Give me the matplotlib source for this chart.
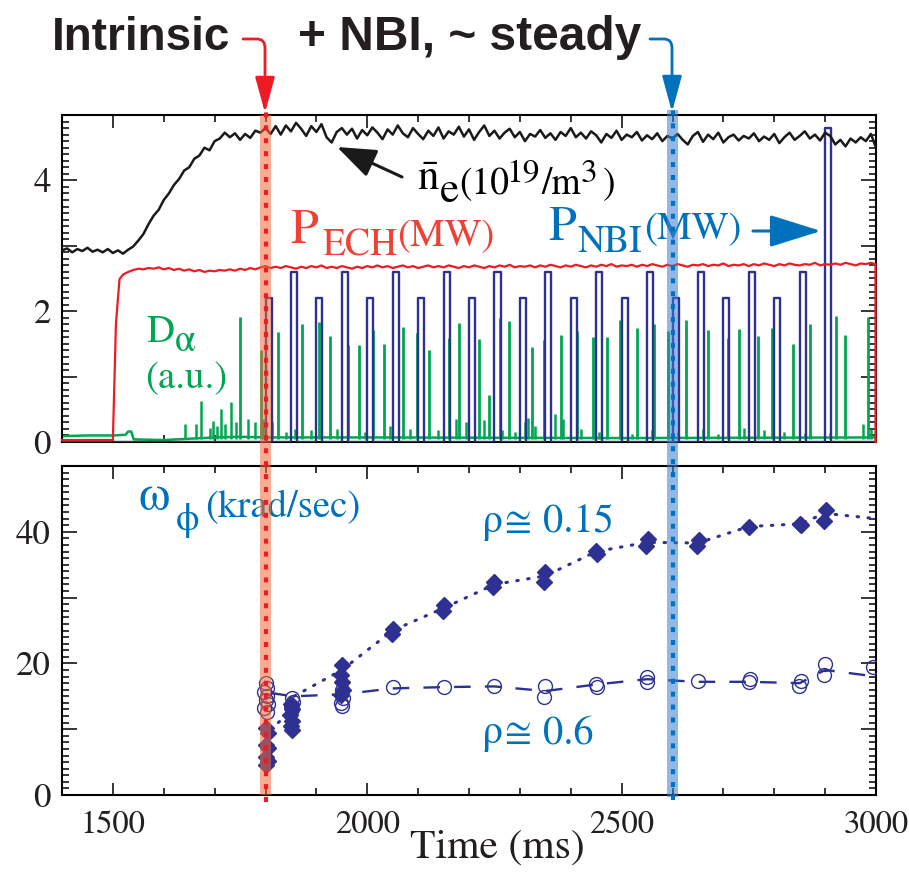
import numpy as np
import matplotlib
matplotlib.use('Agg')
import matplotlib.pyplot as plt
from matplotlib.patches import Rectangle, FancyArrowPatch, ArrowStyle
from matplotlib.lines import Line2D
from matplotlib.path import Path
import matplotlib.transforms as mtransforms
from matplotlib.ticker import MultipleLocator, FuncFormatter

# ---------------- data ----------------
# line-averaged density (1e19 m^-3), sampled every 10 ms from 1400 to 3000
ne_t = np.arange(1400, 3001, 10)
ne_v = [2.93, 2.96, 2.90, 2.95, 2.92, 2.97, 2.91, 2.94, 2.90, 2.95,
        2.89, 2.93, 2.88, 2.94, 2.99, 3.08, 3.18, 3.33, 3.46, 3.55,
        3.70, 3.80, 3.93, 4.02, 4.15, 4.20, 4.33, 4.38, 4.50, 4.46,
        4.60, 4.64, 4.73, 4.66, 4.72, 4.62, 4.71, 4.65, 4.76, 4.73,
        4.80, 4.71, 4.83, 4.70, 4.84, 4.75, 4.88, 4.79, 4.68, 4.83,
        4.74, 4.86, 4.66, 4.58, 4.74, 4.80, 4.70, 4.79, 4.64, 4.77,
        4.69, 4.81, 4.73, 4.63, 4.78, 4.70, 4.84, 4.72, 4.66, 4.80,
        4.71, 4.63, 4.76, 4.68, 4.81, 4.64, 4.75, 4.70, 4.82, 4.67,
        4.78, 4.62, 4.74, 4.84, 4.68, 4.76, 4.64, 4.73, 4.79, 4.66,
        4.74, 4.60, 4.71, 4.67, 4.77, 4.65, 4.72, 4.62, 4.74, 4.68,
        4.80, 4.66, 4.73, 4.64, 4.75, 4.69, 4.58, 4.71, 4.65, 4.76,
        4.62, 4.70, 4.66, 4.74, 4.61, 4.69, 4.63, 4.72, 4.60, 4.68,
        4.64, 4.71, 4.62, 4.55, 4.68, 4.74, 4.59, 4.70, 4.63, 4.73,
        4.58, 4.66, 4.70, 4.61, 4.68, 4.64, 4.72, 4.60, 4.67, 4.62,
        4.71, 4.57, 4.66, 4.73, 4.62, 4.68, 4.75, 4.64, 4.70, 4.61,
        4.73, 4.68, 4.55, 4.62, 4.52, 4.64, 4.58, 4.66, 4.60, 4.71,
        4.50]

# ECH power (MW)
ech_t_start = [1400, 1500, 1506, 1513, 1520]
ech_v_start = [0.03, 0.03, 1.80, 2.49, 2.56]
ech_t_main = np.arange(1530, 3001, 10)
ech_v_main = [2.60, 2.63, 2.65, 2.64, 2.66, 2.65, 2.67, 2.64, 2.66, 2.63,
              2.65, 2.62, 2.64, 2.61, 2.63, 2.60, 2.62, 2.61, 2.63, 2.62,
              2.64, 2.62, 2.65, 2.63, 2.66, 2.64, 2.67, 2.69, 2.66, 2.68,
              2.66, 2.69, 2.67, 2.65, 2.68, 2.66, 2.69, 2.67, 2.70, 2.66,
              2.68, 2.66, 2.69, 2.67, 2.65, 2.68, 2.66, 2.69, 2.67, 2.70,
              2.67, 2.69, 2.66, 2.68, 2.70, 2.67, 2.69, 2.66, 2.68, 2.70,
              2.67, 2.69, 2.67, 2.70, 2.68, 2.66, 2.69, 2.67, 2.70, 2.68,
              2.66, 2.69, 2.67, 2.70, 2.68, 2.71, 2.67, 2.69, 2.68, 2.70,
              2.67, 2.70, 2.68, 2.71, 2.69, 2.67, 2.70, 2.68, 2.71, 2.69,
              2.67, 2.70, 2.68, 2.71, 2.69, 2.72, 2.68, 2.70, 2.69, 2.71,
              2.68, 2.71, 2.69, 2.72, 2.70, 2.68, 2.71, 2.69, 2.72, 2.70,
              2.68, 2.71, 2.70, 2.72, 2.69, 2.71, 2.70, 2.73, 2.69, 2.71,
              2.70, 2.72, 2.69, 2.72, 2.70, 2.73, 2.71, 2.69, 2.72, 2.70,
              2.73, 2.71, 2.70, 2.72, 2.71, 2.74, 2.70, 2.72, 2.71, 2.73,
              2.71, 2.74, 2.72, 2.70, 2.73, 2.72, 2.74, 2.72]
ech_t_end = [2999, 2999]
ech_v_end = [2.72, 0.0]

# NBI pulses (MW): start times and heights
nbi_on = [1800, 1850, 1900, 1950, 2000, 2050, 2100, 2150, 2200, 2250, 2300, 2350,
          2400, 2450, 2500, 2550, 2600, 2650, 2700, 2750, 2800, 2850, 2900]
nbi_h = [2.2, 2.6, 2.2, 2.6, 2.2, 2.6, 2.2, 2.6, 2.2, 2.6, 2.2, 2.6,
         2.2, 2.6, 2.2, 2.6, 2.2, 2.6, 2.2, 2.6, 2.2, 2.6, 4.8]
nbi_width = 12

# D-alpha (a.u.)
dal_base_t = [1400, 1450, 1500, 1525, 1530, 1536, 1541, 1600, 1650, 1700, 1750, 1800, 2000, 2500, 3000]
dal_base_v = [0.09, 0.10, 0.10, 0.11, 0.16, 0.16, 0.04, 0.03, 0.05, 0.07, 0.08, 0.07, 0.07, 0.06, 0.07]
elm_t = [1750, 1791, 1825, 1871, 1905, 1926, 1962, 1984, 2012, 2033, 2070, 2098, 2121,
         2161, 2181, 2220, 2240, 2260, 2279, 2323, 2348, 2381, 2413, 2443, 2472, 2496,
         2530, 2564, 2591, 2626, 2670, 2709, 2731, 2768, 2796, 2836, 2871, 2922, 2940, 2984]
elm_h = [1.91, 1.40, 1.68, 1.80, 1.83, 1.62, 1.48, 1.48, 1.71, 1.50, 1.76, 1.66, 1.40,
         1.59, 1.82, 1.58, 0.72, 1.90, 1.85, 1.45, 1.56, 1.64, 1.69, 1.61, 1.61, 1.87,
         1.75, 1.81, 1.69, 1.86, 1.72, 1.59, 1.73, 1.62, 1.75, 1.50, 1.80, 1.93, 1.63, 1.91]
small_t = [1642, 1663, 1674, 1690, 1697, 1705, 1712, 1720, 1733, 1742, 1766, 1780, 1795,
           1812, 1840, 1858, 1890, 1940, 1995, 2045, 2085, 2140, 2175, 2195, 2230, 2265,
           2290, 2310, 2316, 2330, 2370, 2385, 2420, 2455, 2520, 2560, 2610, 2660, 2690,
           2740, 2780, 2820, 2860, 2910, 2975, 2990]
small_h = [0.28, 0.27, 0.62, 0.22, 0.32, 0.25, 0.50, 0.28, 0.61, 0.30, 0.35, 0.30, 0.35,
           0.30, 0.15, 0.20, 0.18, 0.20, 0.15, 0.25, 0.20, 0.18, 0.35, 0.30, 0.33, 0.18,
           0.15, 0.30, 0.36, 0.25, 0.43, 0.35, 0.20, 0.15, 0.12, 0.18, 0.15, 0.20, 0.12,
           0.22, 0.18, 0.15, 0.14, 0.13, 0.28, 0.20]

# toroidal rotation (krad/s)
r015_t = [1800, 1805, 1800, 1805, 1800, 1805, 1800,
          1850, 1853, 1848, 1852, 1850, 1852,
          1950, 1948, 1950, 1952, 1948,
          2050, 2048, 2150, 2148, 2250, 2248, 2350, 2348, 2450, 2452,
          2552, 2548, 2652, 2648, 2750, 2850, 2852, 2902, 2898]
r015_v = [10.2, 9.4, 7.6, 7.2, 5.8, 5.2, 4.5,
          13.9, 13.0, 12.2, 11.3, 10.5, 9.9,
          19.7, 18.3, 17.2, 16.0, 15.2,
          25.3, 24.4, 28.9, 27.9, 32.4, 31.6, 33.9, 32.4, 37.1, 36.7,
          38.9, 37.8, 38.7, 37.8, 40.8, 41.2, 41.0, 43.3, 41.6]
r06_t = [1800, 1803, 1798, 1802, 1800, 1805, 1798, 1802,
         1852, 1855, 1850, 1853,
         1950, 1952, 1948, 1950,
         2050, 2150, 2250, 2350, 2348, 2450, 2452, 2550, 2550, 2650,
         2750, 2752, 2848, 2852, 2900, 2898, 2995]
r06_v = [17.0, 16.3, 15.7, 15.0, 14.4, 13.8, 13.2, 12.6,
         14.8, 14.2, 13.6, 13.0,
         15.9, 14.8, 14.0, 13.5,
         16.4, 16.4, 16.6, 16.6, 14.9, 16.9, 16.4, 17.9, 17.2, 17.4,
         17.2, 17.7, 16.6, 17.4, 19.9, 18.3, 19.4]
r015_line_t = [1808, 1850, 1856, 1950, 2050, 2150, 2250, 2350, 2450, 2550, 2650, 2750, 2850, 2900, 3000]
r015_line_v = [10.0, 12.5, 15.0, 19.0, 25.0, 28.4, 32.0, 33.3, 37.0, 38.4, 38.3, 40.8, 41.2, 42.8, 42.0]
r06_line_t = [1810, 1855, 1950, 2050, 2150, 2250, 2350, 2450, 2550, 2650, 2750, 2850, 2900, 3000]
r06_line_v = [15.5, 15.0, 15.3, 16.2, 16.4, 16.5, 15.8, 16.8, 17.6, 17.2, 17.2, 17.0, 19.0, 18.0]

event_t = [1800, 2600]

# ---------------- style ----------------
W, H = 909, 872
SERIF = ['STIXGeneral', 'Liberation Serif', 'DejaVu Sans']
plt.rcParams['font.family'] = SERIF
plt.rcParams['mathtext.fontset'] = 'stix'

NAVY = '#2e3192'
RED = '#ed1c24'
RED_T = '#ef4136'
BLUE = '#0072bc'
GREEN = '#00a651'

fig = plt.figure(figsize=(W / 100, H / 100), dpi=100)


def fx(x):
    return x / W


def fy(y):
    return 1 - y / H


ax1 = fig.add_axes([fx(62), fy(442), 814 / W, 327 / H])
ax2 = fig.add_axes([fx(62), fy(795), 814 / W, 329 / H], sharex=ax1)

for ax in (ax1, ax2):
    ax.set_xlim(1400, 3000)
    for s in ax.spines.values():
        s.set_linewidth(1.5)
    ax.xaxis.set_major_locator(MultipleLocator(500))
    ax.xaxis.set_minor_locator(MultipleLocator(100))
    ax.tick_params(which='both', direction='in', top=True, right=True,
                   width=1.1, labelsize=25, pad=8, labelfontfamily=SERIF,
                   labelcolor='#231f20')
    ax.tick_params(axis='y', which='major', length=11)
    ax.tick_params(axis='y', which='minor', length=5)
    ax.tick_params(axis='x', which='major', length=9)
    ax.tick_params(axis='x', which='minor', length=5)

ax1.set_ylim(0, 5)
ax1.yaxis.set_major_locator(MultipleLocator(1))
ax1.yaxis.set_minor_locator(MultipleLocator(0.1))
ax1.yaxis.set_major_formatter(FuncFormatter(lambda v, p: f'{int(round(v))}' if int(round(v)) % 2 == 0 else ''))
ax1.tick_params(axis='x', labelbottom=False)

ax2.set_ylim(0, 50)
ax2.yaxis.set_major_locator(MultipleLocator(10))
ax2.yaxis.set_minor_locator(MultipleLocator(1))
ax2.yaxis.set_major_formatter(FuncFormatter(lambda v, p: f'{int(round(v))}' if int(round(v)) % 20 == 0 else ''))
ax2.xaxis.set_major_formatter(FuncFormatter(lambda v, p: f'{int(round(v))}'))
ax2.tick_params(axis='x', pad=11, labelsize=23.5)

# ---------------- top panel ----------------
ax1.plot(dal_base_t, dal_base_v, color=GREEN, lw=1.8, zorder=2)
ax1.vlines(small_t, 0.04, small_h, color=GREEN, lw=1.8, zorder=2)
ax1.vlines(elm_t, 0.04, elm_h, color=GREEN, lw=2.0, zorder=2)

nbi_x = [1400]
nbi_y = [0.0]
for t, h in zip(nbi_on, nbi_h):
    nbi_x += [t, t, t + nbi_width, t + nbi_width]
    nbi_y += [0.0, h, h, 0.0]
nbi_x.append(3000)
nbi_y.append(0.0)
ax1.plot(nbi_x, nbi_y, color=NAVY, lw=1.7, zorder=3)

ech_t = list(ech_t_start) + list(ech_t_main[:-1]) + ech_t_end
ech_v = list(ech_v_start) + list(ech_v_main[:-1]) + ech_v_end
ax1.plot(ech_t, ech_v, color=RED, lw=1.6, zorder=3, clip_on=False)
ax1.plot(ne_t, ne_v, color='#1a1a1a', lw=1.8, zorder=3)

# ---------------- bottom panel ----------------
ax2.plot(r015_line_t, r015_line_v, color=NAVY, lw=2.2, ls=(0, (0.5, 3.1)),
         dash_capstyle='round', zorder=2)
ax2.plot(r06_line_t, r06_line_v, color=NAVY, lw=1.7, ls=(0, (7, 6)), zorder=2)
ax2.plot(r015_t, r015_v, 'D', color=NAVY, ms=8, mec=NAVY, ls='none', zorder=3)
ax2.plot(r06_t, r06_v, 'o', mfc='none', mec=NAVY, ms=10, mew=1.0, ls='none', zorder=3)

# ---------------- event bands ----------------
trans = mtransforms.blended_transform_factory(ax2.transData, fig.transFigure)
band_specs = [(event_t[0], '#f26b3a', RED, 115, 795, 105, 802),
              (event_t[1], '#3b7fd4', BLUE, 110, 797, 110, 800)]
for t, bc, lc, y0, y1, l0, l1 in band_specs:
    fig.add_artist(Rectangle((t - 10, fy(y1)), 20, (y1 - y0) / H, transform=trans,
                             facecolor=bc, alpha=0.55, lw=0, zorder=5))
    fig.add_artist(Line2D([t, t], [fy(l1), fy(l0)], transform=trans, color=lc,
                          lw=3, ls=(0, (1.2, 1.9)), zorder=6))


# ---------------- texts ----------------
def ftext(x, y, s, family=SERIF, **kw):
    return fig.text(fx(x), fy(y), s, ha='left', va='baseline', family=family, **kw)


ftext(52, 50, 'Intrinsic', family='Liberation Sans', weight='bold', size=33, color='#231f20')
ftext(298, 50, '+ NBI, ~ steady', family='Liberation Sans', weight='bold', size=34.5, color='#231f20')

# curved arrows from the headline
for (xs, xc, y0, yt, col) in [(243, 265, 39, 113, RED), (650, 672, 39, 112, BLUE)]:
    verts = [(fx(xs), fy(y0)), (fx(xc - 8), fy(y0)), (fx(xc), fy(y0)), (fx(xc), fy(y0 + 9)), (fx(xc), fy(yt))]
    codes = [Path.MOVETO, Path.LINETO, Path.CURVE3, Path.CURVE3, Path.LINETO]
    fig.add_artist(FancyArrowPatch(path=Path(verts, codes), transform=fig.transFigure,
                                   arrowstyle=ArrowStyle('-|>', head_length=1.1, head_width=0.3),
                                   mutation_scale=20, color=col, lw=2.0, zorder=7))

# density label
fig.add_artist(FancyArrowPatch((fx(402), fy(177)), (fx(337), fy(147)), transform=fig.transFigure,
                               arrowstyle=ArrowStyle('-|>', head_length=1.2, head_width=0.45),
                               mutation_scale=20, color='#1a1a1a', lw=2.2, shrinkA=0, shrinkB=0, zorder=7))
ftext(417, 190, r'$\bar{\mathrm{n}}$', size=31, color='black')
ftext(440, 202, 'e', size=31, color='black')
ftext(459, 194, '(10', size=27, color='black')
ftext(506, 182, '19', size=24, color='black')
ftext(541, 194, '/m', size=27, color='black')
ftext(581, 182, '3', size=24, color='black')
ftext(603, 194, ')', size=27, color='black')

# ECH label
ftext(290, 243, 'P', size=36, color=RED_T)
ftext(323, 255, 'ECH', size=27, color=RED_T)
ftext(397, 246, '(MW)', size=28, color=RED_T)

# NBI label
ftext(548, 240, 'P', size=36, color=BLUE)
ftext(578, 252, 'NBI', size=27, color=BLUE)
ftext(644, 239, '(MW)', size=28, color=BLUE)
fig.add_artist(FancyArrowPatch((fx(753), fy(231)), (fx(821), fy(231)), transform=fig.transFigure,
                               arrowstyle=ArrowStyle('-|>', head_length=1.6, head_width=0.5),
                               mutation_scale=20, color=BLUE, lw=2.2, shrinkA=0, shrinkB=0, zorder=7))

# D-alpha label
ftext(146, 342, 'D', size=28, color=GREEN)
ftext(175, 351, 'α', size=27, color=GREEN)
ftext(145, 388, '(a.u.)', size=28, color=GREEN)

# rotation labels
ftext(139, 510, 'ω', size=36, color=BLUE)
ftext(176, 530, 'ϕ', size=27, color=BLUE)
ftext(205, 517, '(krad/sec)', size=28, color=BLUE)
ftext(482, 532, 'ρ', size=30, color=BLUE)
ftext(504, 532, '≅', size=28, color=BLUE)
ftext(543, 532, '0.15', size=29, color=BLUE)
ftext(482, 743, 'ρ', size=30, color=BLUE)
ftext(504, 743, '≅', size=28, color=BLUE)
ftext(543, 743, '0.6', size=29, color=BLUE)

fig.text(fx(497), fy(858), 'Time (ms)', ha='center', va='baseline', family=SERIF,
         size=30, color='#231f20')

fig.savefig('out.png', dpi=100)
